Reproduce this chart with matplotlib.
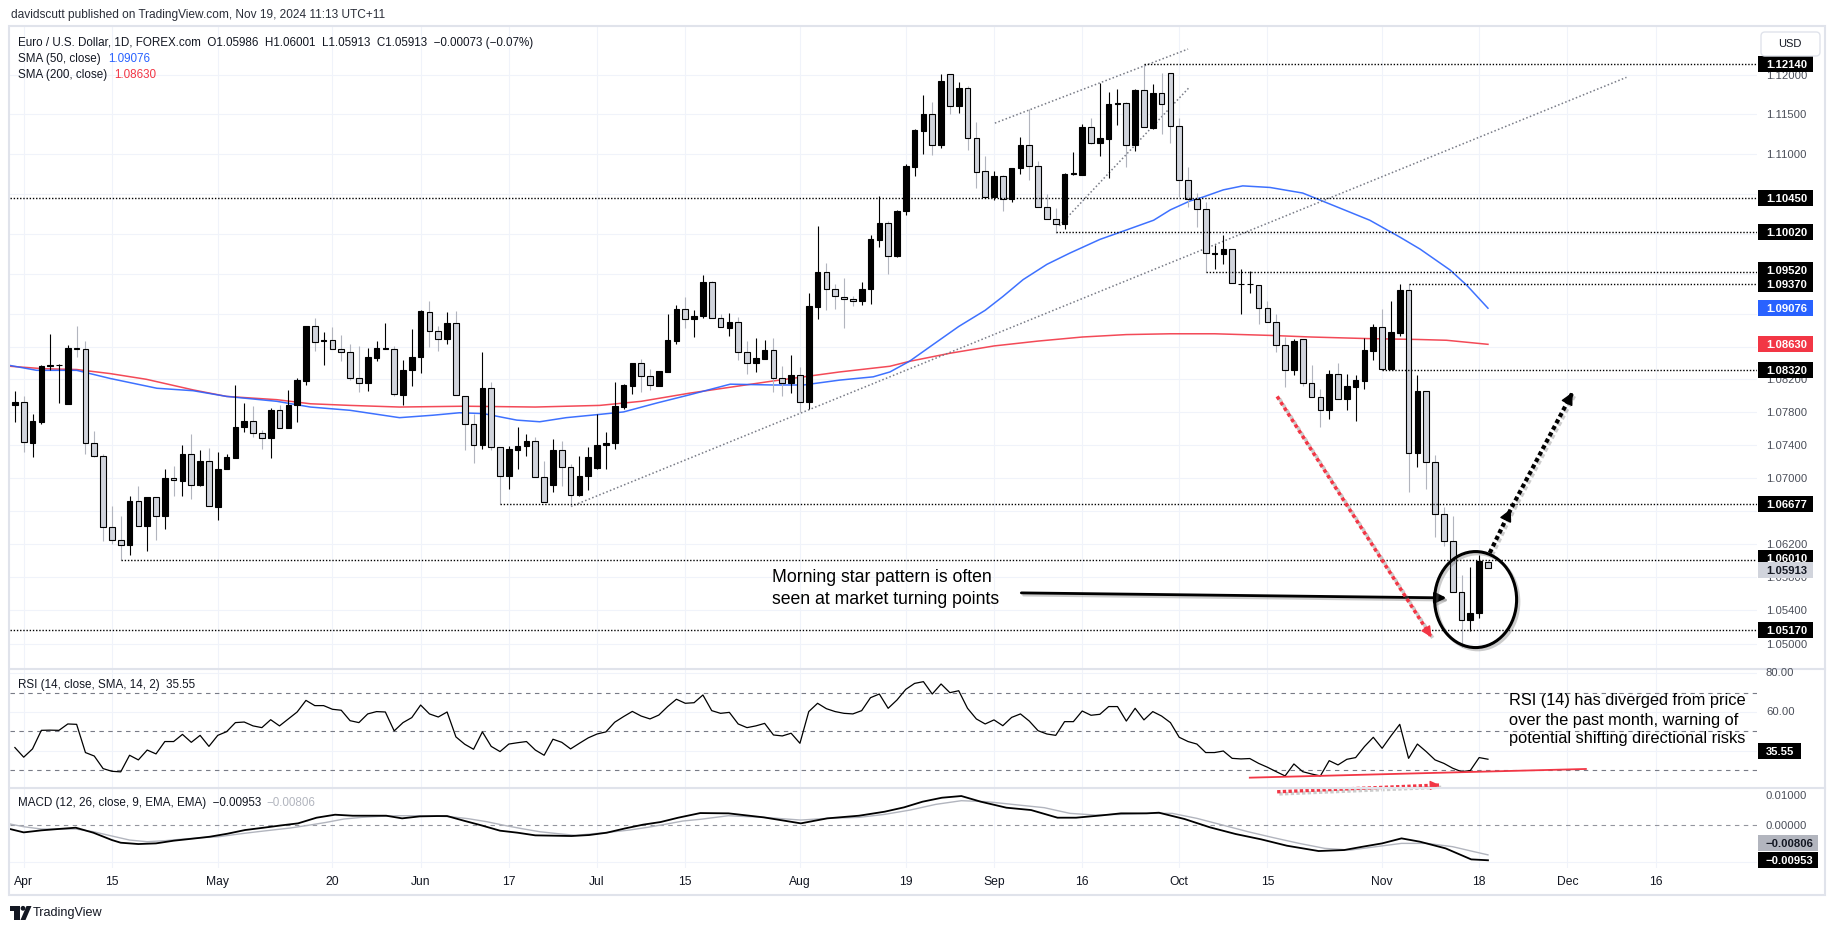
import numpy as np
import matplotlib
matplotlib.use("Agg")
import matplotlib.pyplot as plt
from matplotlib import font_manager
from matplotlib.patches import Rectangle, Ellipse, FancyBboxPatch, Polygon, Circle
from matplotlib.transforms import IdentityTransform
import matplotlib.patheffects as pe


def has_font(name):
    try:
        font_manager.findfont(font_manager.FontProperties(family=name), fallback_to_default=False)
        return True
    except Exception:
        return False


BASE = 'Liberation Sans' if has_font('Liberation Sans') else 'DejaVu Sans'
NARROW = 'Liberation Sans Narrow' if has_font('Liberation Sans Narrow') else BASE
plt.rcParams['font.family'] = [BASE, 'DejaVu Sans']

# ---------------------------------------------------------------- data
# trading-day index: -1 = Fri 29 Mar 2024, 0 = Mon 1 Apr 2024 ... 166 = Tue 19 Nov 2024
first_bar = -1
opens = [
    1.0788, 1.0792, 1.0742, 1.0768, 1.0836, 1.0837, 1.0790, 1.0859, 1.0857, 1.0742,
    1.0726, 1.0640, 1.0625, 1.0618, 1.0672, 1.0642, 1.0677, 1.0654, 1.0700, 1.0696,
    1.0729, 1.0691, 1.0720, 1.0664, 1.0710, 1.0724, 1.0761, 1.0769, 1.0754, 1.0748,
    1.0782, 1.0760, 1.0789, 1.0818, 1.0885, 1.0867, 1.0868, 1.0857, 1.0853, 1.0822,
    1.0815, 1.0846, 1.0857, 1.0857, 1.0801, 1.0832, 1.0848, 1.0903, 1.0879, 1.0869,
    1.0889, 1.0800, 1.0765, 1.0740, 1.0809, 1.0737, 1.0702, 1.0734, 1.0739, 1.0744,
    1.0701, 1.0691, 1.0733, 1.0713, 1.0679, 1.0702, 1.0712, 1.0740, 1.0742, 1.0786,
    1.0812, 1.0840, 1.0824, 1.0812, 1.0829, 1.0867, 1.0906, 1.0894, 1.0898, 1.0940,
    1.0896, 1.0883, 1.0891, 1.0853, 1.0840, 1.0845, 1.0856, 1.0821, 1.0815, 1.0825,
    1.0792, 1.0909, 1.0953, 1.0932, 1.0922, 1.0919, 1.0916, 1.0931, 1.0992, 1.1013,
    1.0972, 1.1028, 1.1084, 1.1129, 1.1150, 1.1112, 1.1201, 1.1161, 1.1184, 1.1120,
    1.1079, 1.1046, 1.1072, 1.1044, 1.1082, 1.1111, 1.1085, 1.1034, 1.1019, 1.1012,
    1.1075, 1.1074, 1.1134, 1.1114, 1.1119, 1.1163, 1.1164, 1.1111, 1.1181, 1.1133,
    1.1177, 1.1203, 1.1135, 1.1068, 1.1044, 1.1031, 1.0975, 1.0975, 1.0981, 1.0938,
    1.0937, 1.0936, 1.0908, 1.0890, 1.0862, 1.0831, 1.0869, 1.0815, 1.0798, 1.0782,
    1.0827, 1.0796, 1.0811, 1.0818, 1.0855, 1.0884, 1.0833, 1.0877, 1.0930, 1.0730,
    1.0806, 1.0719, 1.0656, 1.0623, 1.0562, 1.0528, 1.0537, 1.05986]
highs = [
    1.0806, 1.0800, 1.0778, 1.0838, 1.0876, 1.0839, 1.0862, 1.0885, 1.0867, 1.0757,
    1.0729, 1.0665, 1.0653, 1.0678, 1.0690, 1.0677, 1.0677, 1.0711, 1.0714, 1.0740,
    1.0753, 1.0733, 1.0736, 1.0731, 1.0729, 1.0813, 1.0791, 1.0787, 1.0758, 1.0785,
    1.0789, 1.0807, 1.0821, 1.0886, 1.0895, 1.0878, 1.0884, 1.0874, 1.0864, 1.0861,
    1.0858, 1.0867, 1.0889, 1.0861, 1.0844, 1.0882, 1.0905, 1.0916, 1.0886, 1.0903,
    1.0904, 1.0800, 1.0778, 1.0853, 1.0817, 1.0737, 1.0738, 1.0762, 1.0753, 1.0750,
    1.0720, 1.0747, 1.0744, 1.0716, 1.0726, 1.0737, 1.0777, 1.0755, 1.0817, 1.0814,
    1.0840, 1.0845, 1.0833, 1.0830, 1.0900, 1.0911, 1.0922, 1.0905, 1.0949, 1.0941,
    1.0901, 1.0902, 1.0897, 1.0867, 1.0871, 1.0868, 1.0871, 1.0836, 1.0850, 1.0835,
    1.0926, 1.1010, 1.0964, 1.0938, 1.0945, 1.0923, 1.0940, 1.0999, 1.1047, 1.1016,
    1.1030, 1.1087, 1.1131, 1.1174, 1.1166, 1.1201, 1.1201, 1.1191, 1.1186, 1.1141,
    1.1097, 1.1079, 1.1074, 1.1083, 1.1121, 1.1157, 1.1091, 1.1050, 1.1032, 1.1076,
    1.1103, 1.1138, 1.1146, 1.1190, 1.1179, 1.1182, 1.1166, 1.1182, 1.1214, 1.1189,
    1.1203, 1.1203, 1.1145, 1.1084, 1.1051, 1.1040, 1.0986, 1.0998, 1.0981, 1.0956,
    1.0954, 1.0936, 1.0917, 1.0901, 1.0872, 1.0869, 1.0869, 1.0838, 1.0808, 1.0831,
    1.0840, 1.0827, 1.0825, 1.0871, 1.0888, 1.0906, 1.0917, 1.0937, 1.0938, 1.0825,
    1.0806, 1.0728, 1.0664, 1.0653, 1.0583, 1.0592, 1.0607, 1.06001]
lows = [
    1.0768, 1.0731, 1.0725, 1.0765, 1.0831, 1.0791, 1.0790, 1.0848, 1.0729, 1.0725,
    1.0623, 1.0620, 1.0601, 1.0606, 1.0642, 1.0611, 1.0624, 1.0638, 1.0678, 1.0678,
    1.0674, 1.0690, 1.0665, 1.0649, 1.0710, 1.0724, 1.0756, 1.0749, 1.0735, 1.0724,
    1.0760, 1.0760, 1.0768, 1.0813, 1.0855, 1.0837, 1.0857, 1.0842, 1.0819, 1.0805,
    1.0806, 1.0843, 1.0857, 1.0800, 1.0789, 1.0812, 1.0828, 1.0860, 1.0855, 1.0863,
    1.0801, 1.0733, 1.0718, 1.0735, 1.0733, 1.0668, 1.0686, 1.0710, 1.0726, 1.0701,
    1.0670, 1.0683, 1.0690, 1.0666, 1.0678, 1.0685, 1.0710, 1.0710, 1.0735, 1.0784,
    1.0802, 1.0804, 1.0807, 1.0812, 1.0829, 1.0863, 1.0883, 1.0872, 1.0896, 1.0895,
    1.0884, 1.0873, 1.0844, 1.0826, 1.0829, 1.0845, 1.0804, 1.0799, 1.0803, 1.0780,
    1.0784, 1.0894, 1.0905, 1.0907, 1.0883, 1.0910, 1.0911, 1.0913, 1.0984, 1.0950,
    1.0971, 1.1024, 1.1073, 1.1100, 1.1099, 1.1107, 1.1150, 1.1152, 1.1105, 1.1057,
    1.1046, 1.1042, 1.1028, 1.1040, 1.1075, 1.1067, 1.1034, 1.1019, 1.1001, 1.1006,
    1.1074, 1.1074, 1.1113, 1.1098, 1.1070, 1.1137, 1.1084, 1.1104, 1.1134, 1.1132,
    1.1125, 1.1114, 1.1046, 1.1034, 1.1009, 1.0952, 1.0956, 1.0962, 1.0939, 1.0901,
    1.0927, 1.0888, 1.0890, 1.0854, 1.0811, 1.0825, 1.0812, 1.0798, 1.0762, 1.0771,
    1.0796, 1.0782, 1.0769, 1.0808, 1.0844, 1.0831, 1.0833, 1.0873, 1.0683, 1.0713,
    1.0686, 1.0628, 1.0617, 1.0562, 1.0496, 1.0516, 1.0531, 1.05913]
closes = [
    1.0792, 1.0743, 1.0769, 1.0836, 1.0837, 1.0838, 1.0859, 1.0857, 1.0742, 1.0726,
    1.0640, 1.0625, 1.0618, 1.0672, 1.0642, 1.0677, 1.0654, 1.0700, 1.0697, 1.0729,
    1.0691, 1.0720, 1.0665, 1.0711, 1.0725, 1.0762, 1.0769, 1.0754, 1.0748, 1.0782,
    1.0760, 1.0789, 1.0819, 1.0885, 1.0866, 1.0868, 1.0857, 1.0853, 1.0822, 1.0815,
    1.0847, 1.0858, 1.0858, 1.0802, 1.0832, 1.0848, 1.0904, 1.0879, 1.0869, 1.0889,
    1.0801, 1.0765, 1.0740, 1.0809, 1.0737, 1.0702, 1.0735, 1.0739, 1.0744, 1.0701,
    1.0670, 1.0733, 1.0713, 1.0679, 1.0702, 1.0725, 1.0740, 1.0742, 1.0787, 1.0813,
    1.0840, 1.0824, 1.0813, 1.0830, 1.0868, 1.0906, 1.0894, 1.0898, 1.0940, 1.0896,
    1.0884, 1.0891, 1.0853, 1.0840, 1.0846, 1.0856, 1.0821, 1.0815, 1.0825, 1.0792,
    1.0910, 1.0953, 1.0932, 1.0923, 1.0919, 1.0917, 1.0931, 1.0993, 1.1013, 1.0972,
    1.1028, 1.1085, 1.1130, 1.1150, 1.1112, 1.1192, 1.1161, 1.1184, 1.1120, 1.1078,
    1.1046, 1.1072, 1.1044, 1.1083, 1.1111, 1.1085, 1.1034, 1.1019, 1.1012, 1.1075,
    1.1076, 1.1134, 1.1114, 1.1120, 1.1163, 1.1164, 1.1112, 1.1181, 1.1134, 1.1177,
    1.1163, 1.1135, 1.1068, 1.1044, 1.1031, 1.0976, 1.0976, 1.0981, 1.0939, 1.0938,
    1.0937, 1.0908, 1.0890, 1.0862, 1.0831, 1.0867, 1.0815, 1.0798, 1.0782, 1.0827,
    1.0796, 1.0812, 1.0819, 1.0856, 1.0884, 1.0833, 1.0878, 1.0930, 1.0730, 1.0806,
    1.0719, 1.0656, 1.0623, 1.0562, 1.0529, 1.0537, 1.0599, 1.05913]

sma50_x = [-1.55, 1.47, 6.0, 9.8, 15.1, 19.2, 23.0, 28.7, 32.5, 37.0, 42.6, 46.4, 49.4,
           52.1, 55.9, 58.5, 61.5, 65.3, 68.0, 71.8, 75.5, 80.1, 85.0, 88.4, 92.5, 96.3,
           98.2, 100.4, 103, 106, 109, 111, 113.3, 116, 118.6, 122, 124.3, 128.1, 130,
           132.2, 133.7, 136, 138.2, 141.3, 145, 148.8, 152.6, 156, 158.3, 161.7, 163.6, 166]
sma50_y = [1.0837, 1.0831, 1.0831, 1.0821, 1.0809, 1.0806, 1.0799, 1.0793, 1.0786, 1.0782,
           1.0773, 1.0776, 1.0779, 1.0778, 1.0770, 1.0768, 1.0773, 1.0777, 1.0780, 1.0791,
           1.0801, 1.0814, 1.0813, 1.0813, 1.0819, 1.0823, 1.0829, 1.0842, 1.0862, 1.0885,
           1.0905, 1.0922, 1.0943, 1.0962, 1.0976, 1.0993, 1.1002, 1.1017, 1.1030, 1.1041,
           1.1046, 1.1055, 1.1060, 1.1058, 1.1051, 1.1034, 1.1017, 1.0996, 1.0981, 1.0955,
           1.0936, 1.09076]
sma200_x = [-1.55, 2.2, 6.0, 9.8, 13.9, 19.2, 23.0, 28.7, 32.5, 37.0, 42.6, 50, 58, 65.3,
            70, 75.5, 85.0, 92.5, 98.2, 100.4, 105, 110, 115, 120, 125, 130, 135, 141.3,
            146, 152.6, 158, 161.3, 166]
sma200_y = [1.0836, 1.0833, 1.0832, 1.0827, 1.0820, 1.0807, 1.0799, 1.0795, 1.0790, 1.0788,
            1.0786, 1.0787, 1.0786, 1.0788, 1.0793, 1.0803, 1.0818, 1.0829, 1.0836, 1.0842,
            1.0852, 1.0861, 1.0867, 1.0872, 1.0875, 1.0876, 1.0876, 1.0874, 1.0872, 1.0870,
            1.0869, 1.0868, 1.0863]

rsi_vals = [
    41.6, 36.6, 40.9, 50.5, 50.6, 50.5, 53.8, 53.6, 39.0, 37.2,
    30.7, 29.3, 29.0, 37.6, 35.2, 40.3, 38.3, 44.7, 44.7, 48.4,
    44.3, 47.9, 42.2, 47.9, 49.8, 54.5, 54.8, 52.8, 51.9, 56.0,
    52.8, 56.4, 60.0, 66.0, 63.3, 63.3, 61.4, 60.9, 55.5, 54.5,
    59.0, 60.2, 60.0, 50.2, 54.5, 57.1, 63.6, 59.0, 57.4, 60.0,
    47.1, 43.3, 40.7, 49.7, 42.2, 39.5, 43.4, 44.1, 44.7, 40.3,
    37.6, 45.9, 44.3, 40.9, 43.8, 46.6, 48.6, 49.7, 54.7, 57.6,
    60.3, 57.9, 56.4, 58.4, 62.8, 66.6, 64.5, 64.8, 68.8, 60.7,
    59.3, 59.8, 53.8, 51.9, 52.8, 54.1, 48.1, 47.6, 49.0, 43.8,
    60.2, 64.5, 61.7, 60.2, 59.3, 59.0, 60.7, 67.4, 69.3, 61.9,
    66.2, 71.7, 74.8, 75.7, 69.3, 74.5, 70.0, 71.0, 61.9, 56.4,
    53.8, 55.9, 52.9, 57.2, 59.0, 55.3, 50.3, 48.6, 47.9, 55.0,
    55.0, 60.5, 58.3, 58.8, 62.8, 62.8, 55.3, 61.9, 55.9, 60.2,
    57.9, 54.5, 46.9, 44.7, 43.4, 39.0, 39.0, 39.8, 36.0, 35.7,
    35.9, 33.4, 31.4, 29.1, 26.9, 33.1, 29.1, 27.9, 26.9, 34.8,
    32.6, 35.5, 36.4, 42.1, 46.9, 41.2, 47.6, 53.6, 36.0, 43.4,
    39.5, 35.2, 33.4, 30.9, 29.1, 29.7, 36.4, 35.55]

macd_x = [-1.55, 0, 2, 3.9, 5.9, 7.9, 10, 11, 13, 15, 17, 19.1, 21.1, 23.1, 25.1, 27.2,
          29.2, 31.1, 33.2, 35.3, 37.3, 39.3, 41.1, 42.9, 44.9, 46.9, 48, 49.9, 51.9, 54,
          56, 58, 60.1, 62.1, 64.1, 66.1, 68.2, 70.2, 72.2, 74.2, 76.7, 79.9, 83.9, 88.1,
          91.1, 94.7, 97.6, 99.8, 101.9, 104.1, 106.3, 108.5, 111.4, 114.2, 117.2, 119.3,
          122.2, 124.4, 127.3, 128.7, 131.6, 134.5, 137.4, 140.3, 143.2, 146.8, 149.7,
          151.8, 154, 156.2, 158.3, 161.2, 164.1, 166]
macd_y = [-0.00104, -0.00195, -0.00140, -0.00104, -0.00068, -0.00204, -0.00403, -0.00476,
          -0.00512, -0.00494, -0.00421, -0.00367, -0.00313, -0.00231, -0.00131, -0.00068,
          -0.00005, 0.00050, 0.00204, 0.00285, 0.00258, 0.00258, 0.00258, 0.00186, 0.00240,
          0.00249, 0.00249, 0.00122, -0.00005, -0.00149, -0.00204, -0.00276, -0.00285,
          -0.00294, -0.00267, -0.00204, -0.00086, 0.00014, 0.00086, 0.00204, 0.00330,
          0.00322, 0.00213, 0.00050, 0.00186, 0.00258, 0.00367, 0.00485, 0.00639, 0.00747,
          0.00793, 0.00639, 0.00476, 0.00412, 0.00204, 0.00204, 0.00267, 0.00322, 0.00322,
          0.00340, 0.00168, -0.00059, -0.00240, -0.00385, -0.00557, -0.00702, -0.00675,
          -0.00584, -0.00494, -0.00358, -0.00449, -0.00630, -0.00929, -0.00953]
signal_x = [-1.55, 0, 2, 3.9, 5.9, 7.9, 10, 12, 14, 16, 18.1, 20.1, 22.1, 24.1, 26.2, 28.2,
            30.2, 32.2, 34.3, 36.3, 38.3, 40.3, 42.4, 44.4, 46.4, 48.4, 50.4, 52.5, 54.5,
            56.5, 58.5, 60.6, 62.6, 64.6, 66.6, 68.7, 70.7, 72.7, 74.7, 76.7, 79.9, 83.9,
            88.1, 91.1, 94.7, 97.6, 100.5, 103.4, 106.3, 109.2, 112.8, 115.7, 118.6, 121.5,
            124.4, 127.3, 130.2, 133.0, 135.9, 138.8, 141.7, 144.6, 147.5, 150.4, 153.3,
            156.2, 159.1, 162.0, 164.1, 166]
signal_y = [0.00032, -0.00041, -0.00104, -0.00104, -0.00104, -0.00177, -0.00294, -0.00403,
            -0.00449, -0.00421, -0.00376, -0.00340, -0.00313, -0.00249, -0.00186, -0.00131,
            -0.00077, -0.00005, 0.00077, 0.00168, 0.00213, 0.00240, 0.00258, 0.00258,
            0.00249, 0.00231, 0.00177, 0.00095, -0.00005, -0.00095, -0.00177, -0.00231,
            -0.00276, -0.00231, -0.00186, -0.00131, -0.00059, 0.00023, 0.00113, 0.00160,
            0.00258, 0.00213, 0.00140, 0.00186, 0.00213, 0.00294, 0.00412, 0.00566, 0.00666,
            0.00639, 0.00548, 0.00476, 0.00322, 0.00276, 0.00294, 0.00322, 0.00322, 0.00186,
            0.00005, -0.00177, -0.00340, -0.00494, -0.00630, -0.00675, -0.00584, -0.00494,
            -0.00494, -0.00584, -0.00702, -0.00806]

date_tick_idx = [0, 10, 22, 35, 45, 55, 65, 75, 88, 100, 110, 120, 131, 141, 154, 165, 175, 185]
date_tick_lbl = ['Apr', '15', 'May', '20', 'Jun', '17', 'Jul', '15', 'Aug', '19', 'Sep', '16',
                 'Oct', '15', 'Nov', '18', 'Dec', '16']
price_ticks = [1.050, 1.054, 1.058, 1.062, 1.066, 1.070, 1.074, 1.078, 1.082, 1.086, 1.090,
               1.095, 1.100, 1.105, 1.110, 1.115, 1.120]
rsi_ticks = [40, 60, 80]
rsi_bands = [30, 50, 70]

level_prices = [1.1214, 1.1045, 1.1002, 1.0952, 1.0937, 1.0832, 1.06677, 1.0601, 1.0517]
level_labels = ['1.12140', '1.10450', '1.10020', '1.09520', '1.09370', '1.08320', '1.06677',
                '1.06010', '1.05170']
level_start = [127, None, 117, 134, 157, 154, 54, 11, None]

trend_long = ([62.04, 181.7], [1.0665, 1.1197])
trend_upper = ([110.1, 132.0], [1.1139, 1.1233])
trend_wedge = ([117.4, 132.2], [1.1010, 1.1185])
red_arrow = ([142.1, 159.6], [1.0799, 1.0508])
up_arrow = ([166.2, 168.6, 175.6], [1.0609, 1.0662, 1.0804])
star_arrow = ([113.1, 161.3], [1.0561, 1.0555])
star_circle = (164.6, 1.0553)
rsi_support = ([139.0, 177.1], [26.0, 30.5])
rsi_arrow = ([142.1, 160.5], [18.7, 22.2])

# ---------------------------------------------------------------- layout
W, H = 1835, 931
fig = plt.figure(figsize=(W / 100, H / 100), dpi=100, facecolor='white')
ID = IdentityTransform()
PL, PR = 10, 1757
XMIN, XMAX = -1.553, 196.5


def add_ax(top, bottom):
    a = fig.add_axes([PL / W, 1 - bottom / H, (PR - PL) / W, (bottom - top) / H])
    a.set_axis_off()
    a.set_xlim(XMIN, XMAX)
    return a


ax = add_ax(26, 668)
ax_r = add_ax(669, 787)
ax_m = add_ax(788, 868)

ax.set_yscale('log')
ax.set_ylim(1.04714, 1.12624)
ax_r.set_ylim(21.17, 82.25)
ax_m.set_ylim(-0.01163, 0.01011)

GRID = '#f0f3fa'
for a in (ax, ax_r, ax_m):
    for i in date_tick_idx:
        a.axvline(i, color=GRID, lw=0.8, zorder=0)
for p in price_ticks:
    ax.axhline(p, color=GRID, lw=0.8, zorder=0)
for v in rsi_ticks:
    ax_r.axhline(v, color=GRID, lw=0.8, zorder=0)
for v in rsi_bands:
    ax_r.axhline(v, color='#787b86', lw=0.8, ls=(0, (4, 4)), zorder=1)
for v in (-0.01, 0.01):
    ax_m.axhline(v, color=GRID, lw=0.8, zorder=0)
ax_m.axhline(0.0, color='#787b86', lw=0.8, ls=(0, (4, 4)), alpha=0.8, zorder=1)

# ---------------------------------------------------------------- price pane
O = np.array(opens); Hh = np.array(highs); L = np.array(lows); C = np.array(closes)
x = np.arange(first_bar, first_bar + len(O))
up = C >= O
wick_col = np.where(up, '#000000', '#b2b5be')
ax.vlines(x, L, Hh, colors=wick_col, lw=0.8, zorder=3)
body_lo = np.minimum(O, C)
body_h = np.abs(C - O)
ax.bar(x, body_h, bottom=body_lo, width=0.64,
       color=np.where(up, '#000000', '#d1d4dc'), edgecolor='#000000', linewidth=0.8, zorder=4)

ax.plot(sma200_x, sma200_y, color='#f23645', lw=1.1, alpha=0.9, zorder=2)
ax.plot(sma50_x, sma50_y, color='#2962ff', lw=1.1, alpha=0.9, zorder=2)

for p, s in zip(level_prices, level_start):
    x0 = XMIN if s is None else s
    ax.plot([x0, XMAX], [p, p], color='black', lw=1.0, ls=(0, (1, 1.3)), zorder=5,
            dash_capstyle='butt')

for tx, ty in (trend_long, trend_upper, trend_wedge):
    ax.plot(tx, ty, color='#787b86', lw=1.1, ls=(0, (1, 1.5)), zorder=2)

shadow = [pe.SimpleLineShadow(offset=(1.6, -1.6), shadow_color='#6f6f6f', alpha=0.35), pe.Normal()]


def head(a, p0, p1, color, hl=0.65, hw=0.32):
    d0 = a.transData.transform(p0)
    d1 = a.transData.transform(p1)
    v = (d1 - d0) / np.hypot(*(d1 - d0))
    near = a.transData.inverted().transform(d1 - 8 * v)
    ann = a.annotate('', xy=p1, xytext=tuple(near), xycoords='data', textcoords='data',
                     annotation_clip=False,
                     arrowprops=dict(arrowstyle=f'-|>,head_length={hl},head_width={hw}',
                                     color=color, lw=1.0, shrinkA=0, shrinkB=0))
    ann.arrow_patch.set_clip_on(False)
    ann.set_zorder(8)


def dotted_arrow(a, xs, ys, color, lw, ls, heads, hl=0.65, hw=0.32):
    a.plot(xs, ys, color=color, lw=lw, ls=ls, dash_capstyle='butt', zorder=8,
           clip_on=False, path_effects=shadow)
    for k in heads:
        head(a, (xs[k - 1], ys[k - 1]), (xs[k], ys[k]), color, hl, hw)


dotted_arrow(ax, red_arrow[0], red_arrow[1], '#f23645', 2.6, (0, (1, 0.85)), [1])
dotted_arrow(ax, up_arrow[0], up_arrow[1], 'black', 3.0, (0, (1, 0.75)), [1, 2], hl=0.75, hw=0.38)

ann = ax.annotate('', xy=(star_arrow[0][1], star_arrow[1][1]),
                  xytext=(star_arrow[0][0], star_arrow[1][0]), annotation_clip=False,
                  arrowprops=dict(arrowstyle='-|>,head_length=0.65,head_width=0.32',
                                  color='black', lw=2.0, shrinkA=0, shrinkB=0))
ann.arrow_patch.set_path_effects(shadow)

cx, cy = ax.transData.transform(star_circle)
ell = Ellipse((cx, cy), 82, 96, transform=ID, fill=False, ec='black', lw=2.2, zorder=9)
ell.set_path_effects(shadow)
fig.add_artist(ell)

# ---------------------------------------------------------------- RSI / MACD
ax_r.plot(x, rsi_vals, color='black', lw=0.9, zorder=3)
ax_r.plot(rsi_support[0], rsi_support[1], color='#f23645', lw=1.3, zorder=4, clip_on=False)
dotted_arrow(ax_r, rsi_arrow[0], rsi_arrow[1], '#f23645', 2.4, (0, (1, 0.7)), [1], hl=0.55, hw=0.28)

ax_m.plot(signal_x, signal_y, color='#b2b5be', lw=1.0, zorder=3)
ax_m.plot(macd_x, macd_y, color='black', lw=1.3, zorder=4)

# ---------------------------------------------------------------- frame
fig.add_artist(Rectangle((9, H - 895), 1825 - 9, 895 - 26, transform=ID, fill=False,
                         ec='#e0e3eb', lw=1.5, zorder=1))
for yy in (668.5, 787.5):
    fig.add_artist(plt.Line2D([10, 1825], [H - yy, H - yy], transform=ID, color='#e0e3eb',
                              lw=1.5, zorder=1))

# ---------------------------------------------------------------- axis labels
TICK_C = '#4a4e59'
FS_AX = 8.1


def ytext(yd, s, color=TICK_C):
    fig.text(1766, yd - 4, s, transform=ID, ha='left', va='baseline', fontsize=FS_AX,
             color=color, zorder=3)


def ybox(yd, s, fc, tc, w=55, h=16):
    fig.add_artist(Rectangle((1758, yd - h / 2), w, h, transform=ID, fc=fc, ec='none', zorder=10))
    fig.text(1766, yd - 4, s, transform=ID, ha='left', va='baseline', fontsize=FS_AX,
             color=tc, fontweight='bold', zorder=11)


def dy(a, v):
    return a.transData.transform((0, v))[1]


shift = {'1.09520': 2, '1.06010': 2}
box_y = [dy(ax, p) + shift.get(s, 0) for p, s in zip(level_prices, level_labels)]
box_y += [dy(ax, 1.09076), dy(ax, 1.08630), dy(ax, 1.05913) - 2]

for p in price_ticks:
    yd = dy(ax, p)
    if min(abs(yd - b) for b in box_y) < 7:
        continue  # hidden behind a value label in the reference
    ytext(yd, f'{p:.5f}')
for p, s, yb in zip(level_prices, level_labels, box_y):
    ybox(yb, s, '#000000', 'white')
ybox(box_y[-3], '1.09076', '#2962ff', 'white')
ybox(box_y[-2], '1.08630', '#f23645', 'white')
ybox(box_y[-1], '1.05913', '#d1d4dc', '#131722')

rsi_box_y = dy(ax_r, 35.55) + 8
for v in rsi_ticks:
    yd = dy(ax_r, v) + 1
    if abs(yd - rsi_box_y) < 7:
        continue
    ytext(yd, f'{v:.2f}')
ybox(rsi_box_y, '35.55', '#000000', 'white', w=43)

ytext(H - 795, '0.01000')
ytext(dy(ax_m, 0.0), '0.00000')
ybox(H - 842.7, '\u22120.00806', '#b2b5be', '#131722', w=60)
ybox(dy(ax_m, -0.00953), '\u22120.00953', '#000000', 'white', w=60)

for i, s in zip(date_tick_idx, date_tick_lbl):
    xd = ax.transData.transform((i, 1.08))[0]
    fig.text(xd, H - 882, s, transform=ID, ha='center', va='center', fontsize=8.7, color='#131722')

# USD box
fig.add_artist(FancyBboxPatch((1761, H - 56), 59, 24, boxstyle='round,pad=0,rounding_size=4',
                              transform=ID, fc='white', ec='#e0e3eb', lw=1.0, zorder=10))
fig.text(1790, H - 44, 'USD', transform=ID, ha='center', va='center', fontsize=8.0,
         color='#131722', zorder=11)

# ---------------------------------------------------------------- texts
renderer = fig.canvas.get_renderer()


def fit(t, width):
    w = t.get_window_extent(renderer).width
    t.set_fontsize(t.get_fontsize() * width / w)
    return t.get_fontsize()


def ftext(xp, yp, s, size=10, color='#131722', family=None, **kw):
    kwargs = dict(transform=ID, ha='left', va='center', fontsize=size, color=color)
    if family:
        kwargs['family'] = family
    kwargs.update(kw)
    return fig.text(xp, H - yp, s, **kwargs)


t = ftext(10.7, 15, 'davidscutt published on TradingView.com, Nov 19, 2024 11:13 UTC+11', color='#2a2e39')
fit(t, 375)

t = ftext(18.4, 43.3, 'Euro / U.S. Dollar, 1D, FOREX.com  O1.05986  H1.06001  L1.05913  C1.05913  '
          '\u22120.00073 (\u22120.07%)')
fs_leg = fit(t, 515.6)
ftext(18.4, 59.3, 'SMA (50, close)', size=fs_leg)
ftext(108, 59.3, '1.09076', size=fs_leg, color='#2962ff')
ftext(18.4, 75.3, 'SMA (200, close)', size=fs_leg)
ftext(114, 75.3, '1.08630', size=fs_leg, color='#f23645')

t = ftext(18, 685, 'RSI (14, close, SMA, 14, 2)  35.55')
fit(t, 177)
t = ftext(18, 802.7, 'MACD (12, 26, close, 9, EMA, EMA)  \u22120.00953')
fs_m = fit(t, 241)
ftext(266.5, 802.7, '\u22120.00806', size=fs_m, color='#b2b5be')

t1 = ftext(772, 578, 'Morning star pattern is often', color='black', zorder=12)
fs_star = fit(t1, 220)
ftext(772, 599, 'seen at market turning points', size=fs_star, color='black', zorder=12)

rsi_lines = ['RSI (14) has diverged from price', 'over the past month, warning of',
             'potential shifting directional risks']
t3 = ftext(1509, 739, rsi_lines[2], color='black', family=[NARROW, 'DejaVu Sans'], zorder=12)
fs_r = fit(t3, 237)
ftext(1509, 701, rsi_lines[0], size=fs_r, color='black', family=[NARROW, 'DejaVu Sans'], zorder=12)
ftext(1509, 720, rsi_lines[1], size=fs_r, color='black', family=[NARROW, 'DejaVu Sans'], zorder=12)

# TradingView logo
fig.add_artist(Rectangle((10, H - 911), 9.5, 5, transform=ID, fc='#131722', ec='none'))
fig.add_artist(Rectangle((14, H - 920), 5.5, 10, transform=ID, fc='#131722', ec='none'))
fig.add_artist(Circle((23, H - 908.3), 2.4, transform=ID, fc='#131722', ec='none'))
fig.add_artist(Polygon([(26.5, H - 906), (31.5, H - 906), (25.5, H - 920), (20.5, H - 920)],
                       closed=True, transform=ID, fc='#131722', ec='none'))
t = ftext(33, 913, 'TradingView', color='#131722')
fit(t, 70)

fig.savefig('out.png', dpi=100, facecolor='white')
